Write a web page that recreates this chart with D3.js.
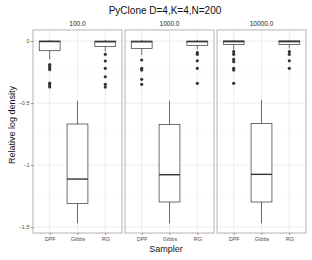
<!DOCTYPE html>
<html lang="en">
<head>
    <meta charset="UTF-8">
    <title>PyClone D=4,K=4,N=200</title>
    <script src="https://cdnjs.cloudflare.com/ajax/libs/d3/7.8.2/d3.min.js"></script>
    <style>
        body{
            margin: 0;
            background: white;
        }
        svg text{
            font-family: "Liberation Sans", Arial, Helvetica, sans-serif;
        }
    </style>
</head>
<body>
    <div class="container"></div>
    <script>
        //data, one row per facet, columns in samplers order
        let facets = ['100.0', '1000.0', '10000.0'];
        let samplers = ['DPF', 'Gibbs', 'RG'];

        let whiskerLow  = [[-0.148, -1.47, -0.086], [-0.113, -1.47, -0.065], [-0.07, -1.47, -0.06]];
        let q1          = [[-0.078, -1.309, -0.043], [-0.059, -1.298, -0.035], [-0.027, -1.298, -0.027]];
        let median      = [[-0.004, -1.113, -0.006], [-0.006, -1.078, -0.005], [-0.005, -1.075, -0.005]];
        let q3          = [[0.0, -0.669, 0.0], [0.0, -0.672, 0.0], [0.002, -0.664, 0.002]];
        let whiskerHigh = [[0.008, -0.481, 0.008], [0.008, -0.481, 0.008], [0.009, -0.476, 0.009]];

        let outliers = [
            [[-0.19, -0.2, -0.215, -0.23, -0.34, -0.355, -0.37], [], [-0.107, -0.161, -0.22, -0.288, -0.349, -0.371]],
            [[-0.153, -0.22, -0.234, -0.309, -0.349], [], [-0.094, -0.107, -0.159, -0.22, -0.341]],
            [[-0.086, -0.107, -0.148, -0.167, -0.22, -0.234, -0.341], [], [-0.086, -0.107, -0.159, -0.22]]
        ];

        let yTicks = [0, -0.5, -1, -1.5];
        let yMinor = [-0.25, -0.75, -1.25];

        let width = 312;
        let height = 260;
        let plotTop = 30;
        let plotBottom = 233;
        let plotLeft = 33;
        let plotRight = 306;

        let svg = d3.select('.container').append('svg')
            .attr('width', width)
            .attr('height', height);

        let facetScale = d3.scaleBand()
            .domain(facets)
            .range([plotLeft, plotRight])
            .paddingInner(0.033)
            .paddingOuter(0);

        let pw = facetScale.bandwidth();

        let xScale = d3.scalePoint()
            .domain(samplers)
            .range([0, pw])
            .padding(0.6);

        let boxW = xScale.step() * 0.75;

        let yScale = d3.scaleLinear()
            .domain([-1.548, 0.089])
            .range([plotBottom, plotTop]);

        //title
        svg.append('text')
            .text('PyClone D=4,K=4,N=200')
            .attr('x', 165)
            .attr('y', 14)
            .style('text-anchor', 'middle')
            .style('font-size', '10px')
            .style('fill', '#111');

        facets.forEach((f, fi) => {
            let g = svg.append('g')
                .attr('transform', `translate(${facetScale(f)},0)`);

            //strip label
            g.append('text')
                .text(f)
                .attr('x', pw / 2)
                .attr('y', 26)
                .style('text-anchor', 'middle')
                .style('font-size', '6.5px')
                .style('fill', '#1a1a1a');

            //grid
            g.selectAll('.minor')
                .data(yMinor)
                .enter()
                .append('line')
                .attr('x1', 0).attr('x2', pw)
                .attr('y1', d => yScale(d)).attr('y2', d => yScale(d))
                .style('stroke', '#f2f2f2')
                .style('stroke-width', 0.5);

            g.selectAll('.major')
                .data(yTicks)
                .enter()
                .append('line')
                .attr('x1', 0).attr('x2', pw)
                .attr('y1', d => yScale(d)).attr('y2', d => yScale(d))
                .style('stroke', '#ebebeb')
                .style('stroke-width', 1);

            g.selectAll('.vgrid')
                .data(samplers)
                .enter()
                .append('line')
                .attr('x1', d => xScale(d)).attr('x2', d => xScale(d))
                .attr('y1', plotTop).attr('y2', plotBottom)
                .style('stroke', '#ebebeb')
                .style('stroke-width', 1);

            //boxes
            samplers.forEach((s, si) => {
                let cx = xScale(s);
                let col = '#333333';

                g.append('line')
                    .attr('x1', cx).attr('x2', cx)
                    .attr('y1', yScale(whiskerHigh[fi][si])).attr('y2', yScale(q3[fi][si]))
                    .style('stroke', col).style('stroke-width', 0.7);

                g.append('line')
                    .attr('x1', cx).attr('x2', cx)
                    .attr('y1', yScale(q1[fi][si])).attr('y2', yScale(whiskerLow[fi][si]))
                    .style('stroke', col).style('stroke-width', 0.7);

                g.append('rect')
                    .attr('x', cx - boxW / 2)
                    .attr('y', yScale(q3[fi][si]))
                    .attr('width', boxW)
                    .attr('height', yScale(q1[fi][si]) - yScale(q3[fi][si]))
                    .style('fill', 'white')
                    .style('stroke', col)
                    .style('stroke-width', 0.7);

                g.append('line')
                    .attr('x1', cx - boxW / 2).attr('x2', cx + boxW / 2)
                    .attr('y1', yScale(median[fi][si])).attr('y2', yScale(median[fi][si]))
                    .style('stroke', col).style('stroke-width', 1.4);

                g.selectAll('.out' + si)
                    .data(outliers[fi][si])
                    .enter()
                    .append('circle')
                    .attr('cx', cx)
                    .attr('cy', d => yScale(d))
                    .attr('r', 1.6)
                    .style('fill', col);
            });

            //border
            g.append('rect')
                .attr('x', 0).attr('y', plotTop)
                .attr('width', pw).attr('height', plotBottom - plotTop)
                .style('fill', 'none')
                .style('stroke', '#b3b3b3')
                .style('stroke-width', 1);

            //x axis
            let xAxis = d3.axisBottom(xScale).tickSize(2).tickPadding(2);
            let xg = g.append('g')
                .attr('transform', `translate(0,${plotBottom})`)
                .call(xAxis);
            xg.select('.domain').remove();
            xg.selectAll('line').style('stroke', '#333').style('stroke-width', 0.5);
            xg.selectAll('text').style('font-size', '5.5px').style('fill', '#4d4d4d').style('font-family', '"Liberation Sans", Arial, sans-serif');
        });

        //y axis
        let yAxis = d3.axisLeft(yScale)
            .tickValues(yTicks)
            .tickFormat(d3.format('~g'))
            .tickSize(2)
            .tickPadding(1.5);
        let yg = svg.append('g')
            .attr('transform', `translate(${plotLeft},0)`)
            .call(yAxis);
        yg.select('.domain').remove();
        yg.selectAll('line').style('stroke', '#333').style('stroke-width', 0.5);
        yg.selectAll('text').style('font-size', '5.5px').style('fill', '#4d4d4d').style('font-family', '"Liberation Sans", Arial, sans-serif');

        //axis titles
        svg.append('text')
            .text('Sampler')
            .attr('x', 166)
            .attr('y', 252)
            .style('text-anchor', 'middle')
            .style('font-size', '9px')
            .style('fill', '#111');

        svg.append('text')
            .text('Relative log density')
            .attr('transform', 'translate(15,125) rotate(-90)')
            .style('text-anchor', 'middle')
            .style('font-size', '9px')
            .style('fill', '#111');
    </script>
</body>
</html>
